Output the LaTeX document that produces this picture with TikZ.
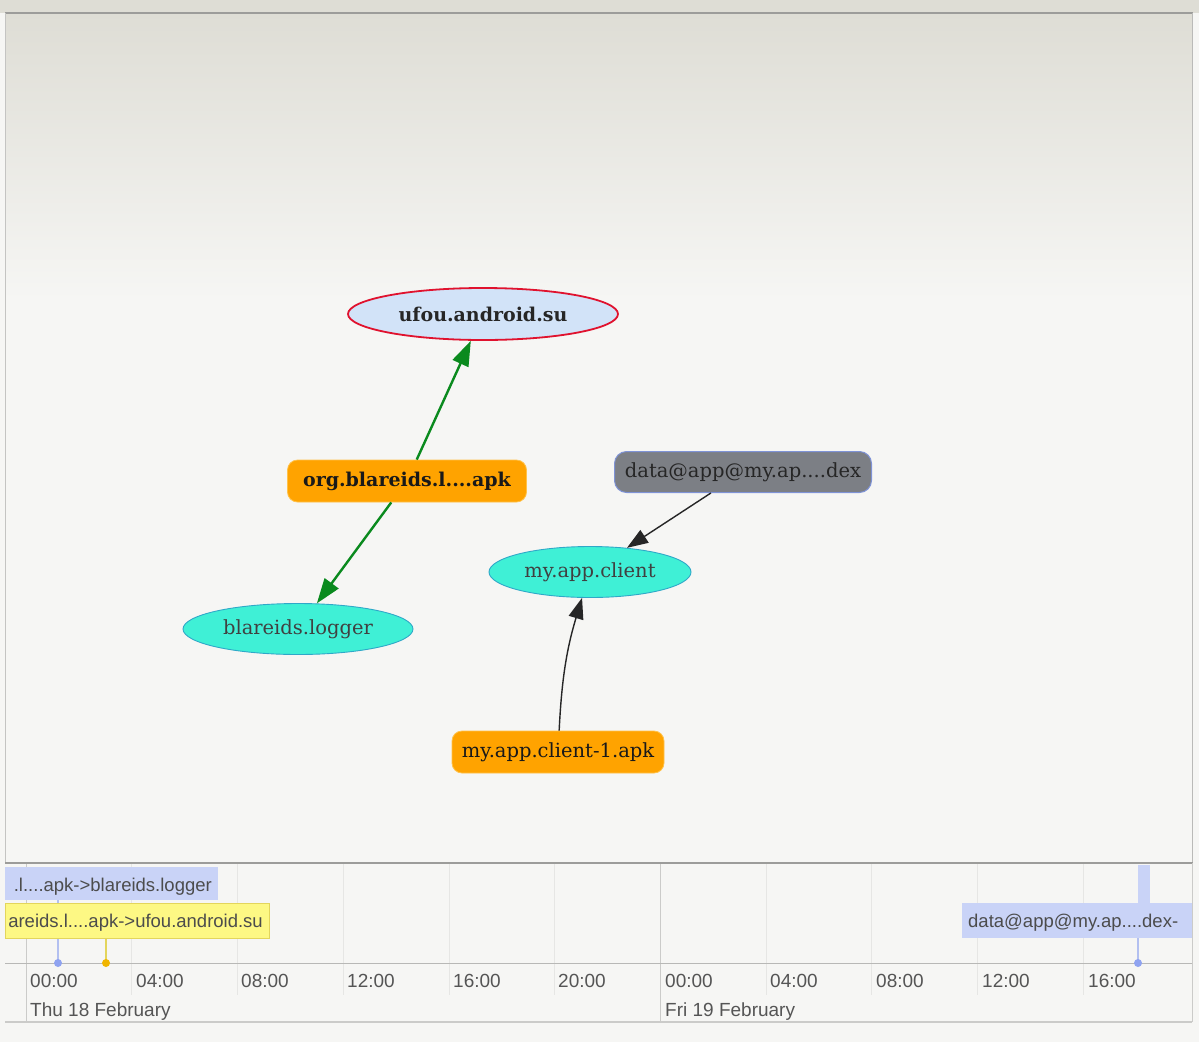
\documentclass[tikz,border=0pt]{standalone}
\usepackage{fontspec}
\newfontfamily\tlfont{Liberation Sans}
\newfontfamily\gfont{DejaVu Serif}
\usetikzlibrary{shapes.geometric,arrows.meta}
\definecolor{pagebg}{HTML}{F6F6F4}
\definecolor{topbg}{HTML}{DEDDD5}
\definecolor{framegray}{HTML}{9C9C9A}
\definecolor{sufill}{HTML}{D2E3F8}
\definecolor{suborder}{HTML}{E0122E}
\definecolor{apkfill}{HTML}{FFA300}
\definecolor{apkborder}{HTML}{FFC24A}
\definecolor{dexfill}{HTML}{7C7F85}
\definecolor{dexborder}{HTML}{7F93D6}
\definecolor{pkgfill}{HTML}{3FF0D6}
\definecolor{pkgborder}{HTML}{2FA8C8}
\definecolor{edgegreen}{HTML}{0A8A1E}
\definecolor{evblue}{HTML}{C9D3F7}
\definecolor{evblueline}{HTML}{B3C0F0}
\definecolor{evbluedot}{HTML}{8FA3F0}
\definecolor{evyellow}{HTML}{FDF884}
\definecolor{evyellowline}{HTML}{E3D55C}
\definecolor{evyellowdot}{HTML}{F0B500}
\definecolor{gridlight}{HTML}{E6E6E4}
\definecolor{griddark}{HTML}{CBCBC9}
\definecolor{tltext}{HTML}{555555}
\tikzset{
  nodefont/.style={font=\gfont\fontsize{19.5}{23}\selectfont},
  boldfont/.style={font=\gfont\fontsize{19}{23}\selectfont\bfseries},
  suproc/.style={ellipse, boldfont, draw=suborder, line width=1.8pt, fill=sufill,
    minimum width=270, minimum height=52, inner sep=0pt, text=black!85},
  pkg/.style={ellipse, nodefont, draw=pkgborder, line width=0.9pt, fill=pkgfill,
    minimum height=51, inner sep=0pt, text=black!75},
  apk/.style={rectangle, rounded corners=10pt, nodefont, draw=apkborder, line width=0.8pt,
    fill=apkfill, minimum height=42, inner sep=0pt, text=black!90},
  dex/.style={rectangle, rounded corners=12pt, nodefont, draw=dexborder, line width=1pt,
    fill=dexfill, minimum height=41, inner sep=0pt, text=black!85},
  greenedge/.style={draw=edgegreen, line width=2.4pt, -{Triangle[length=25pt,width=17pt]}},
  blackedge/.style={draw=black!85, line width=1.4pt, -{Triangle[length=21pt,width=15pt]}},
  tl/.style={font=\tlfont\fontsize{19}{22}\selectfont, text=tltext, inner sep=0pt},
  evlabel/.style={rectangle, font=\tlfont\fontsize{18.5}{21}\selectfont, text=black!70, inner sep=0pt},
}
\begin{document}
\begin{tikzpicture}[x=1pt,y=-1pt]
\useasboundingbox (0,0) rectangle (1199,1042);
% page background
\fill[pagebg] (0,0) rectangle (1199,1042);
\fill[topbg] (0,0) rectangle (1199,13);
% graph canvas with its soft top gradient
\shade[top color=topbg, bottom color=pagebg] (5,13) rectangle (1192,300);
\fill[pagebg] (5,300) rectangle (1192,863);
\draw[framegray, line width=2pt] (5,13) -- (1193,13);
\draw[framegray!70, line width=0.8pt] (1192,13) -- (1192,863);
\draw[framegray!60, line width=0.6pt] (5,13) -- (5,863);

% nodes
\node[suproc] (su) at (483,314) {ufou.android.su};
\node[apk, boldfont, minimum width=239] (orgapk) at (407,481) {org.blareids.l....apk};
\node[dex, minimum width=257] (dex) at (743,472) {data@app@my.ap....dex};
\node[pkg, minimum width=202] (client) at (590,572) {my.app.client};
\node[pkg, minimum width=230] (logger) at (298,629) {blareids.logger};
\node[apk, minimum width=212] (clientapk) at (558,752) {my.app.client-1.apk};

% edges
\draw[greenedge] (orgapk) -- (su);
\draw[greenedge] (orgapk) -- (logger);
\draw[blackedge] (dex) -- (client);
\draw[blackedge] (clientapk) to[bend left=7] (client);

% timeline
\draw[framegray, line width=1.6pt] (5,863) -- (1193,863);
\foreach \gx in {131,237,343,449,554,766,871,977,1083}
  \draw[gridlight, line width=1pt] (\gx,864) -- (\gx,995);
\foreach \gx in {26,660}
  \draw[griddark, line width=1pt] (\gx,864) -- (\gx,1022);
\draw[gridlight!80!black, line width=1pt] (5,963) -- (1192,963);
\draw[griddark, line width=1.2pt] (5,1022) -- (1192,1022);
\draw[griddark, line width=1pt] (1192,863) -- (1192,1022);

\node[tl, anchor=base west] (t0) at (30,987) {00:00};
\node[tl, anchor=base west] (t1) at (136,987) {04:00};
\node[tl, anchor=base west] (t2) at (241,987) {08:00};
\node[tl, anchor=base west] (t3) at (347,987) {12:00};
\node[tl, anchor=base west] (t4) at (453,987) {16:00};
\node[tl, anchor=base west] (t5) at (558,987) {20:00};
\node[tl, anchor=base west] (t6) at (665,987) {00:00};
\node[tl, anchor=base west] (t7) at (770,987) {04:00};
\node[tl, anchor=base west] (t8) at (876,987) {08:00};
\node[tl, anchor=base west] (t9) at (982,987) {12:00};
\node[tl, anchor=base west] (t10) at (1088,987) {16:00};
\node[tl, anchor=base west] (d0) at (30,1016) {Thu 18 February};
\node[tl, anchor=base west] (d1) at (665,1016) {Fri 19 February};

% event markers on the axis, with their stems drawn under the labels
\coordinate (m1) at (58,963);
\coordinate (m2) at (106,963);
\coordinate (m3) at (1138,963);
\draw[evblueline, line width=1.2pt] (58,900) -- (m1);
\draw[evyellowline, line width=1.2pt] (106,938) -- (m2);
\draw[evblueline, line width=1.2pt] (1138,938) -- (m3);

% event: org.blareids... -> blareids.logger
\fill[evblue] (5,867) rectangle (218,900);
\node[evlabel, anchor=base east] (ev1) at (212,891) {.l....apk->blareids.logger};
% event: org.blareids... -> ufou.android.su
\filldraw[fill=evyellow, draw=evyellowline, line width=0.8pt] (5,903) rectangle (269,938);
\node[evlabel, anchor=base east] (ev2) at (263,927) {areids.l....apk->ufou.android.su};
% event: data@app... -> my.app.client
\fill[evblue] (1138,865) rectangle (1150,903);
\fill[evblue] (962,903) rectangle (1192,938);
\node[evlabel, anchor=base west] (ev3) at (968,927) {data@app@my.ap....dex-};

\fill[evbluedot] (m1) circle (4);
\fill[evyellowdot] (m2) circle (4);
\fill[evbluedot] (m3) circle (4);
\end{tikzpicture}
\end{document}
